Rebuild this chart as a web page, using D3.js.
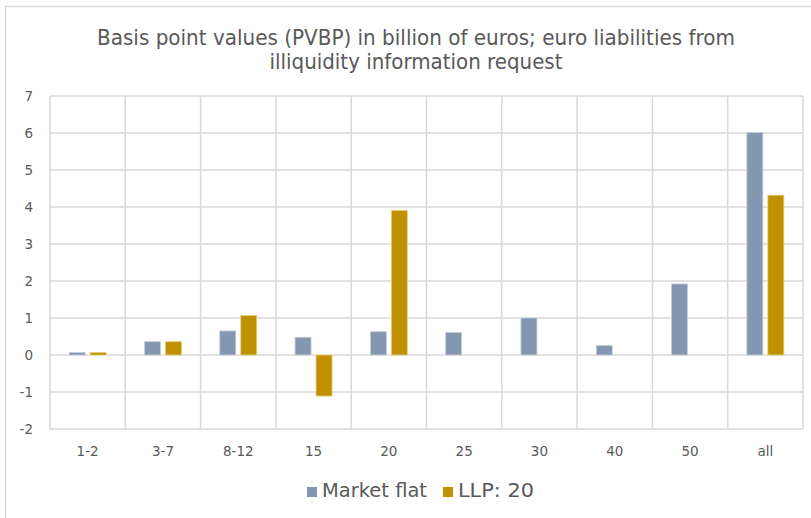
<!DOCTYPE html>
<html>
<head>
<meta charset="utf-8">
<script src="https://cdn.jsdelivr.net/npm/d3@7"></script>
<style>
  body { margin: 0; background: #fff; }
  text { font-family: "DejaVu Sans", Verdana, sans-serif; fill: #595959; }
</style>
</head>
<body>
<div class="chart"></div>
<script>
// data
var categories = ["1-2", "3-7", "8-12", "15", "20", "25", "30", "40", "50", "all"];
var seriesNames = ["Market flat", "LLP: 20"];
var marketFlat = [0.07, 0.36, 0.65, 0.48, 0.63, 0.61, 1.0, 0.26, 1.92, 6.01];
var llp20 = [0.07, 0.36, 1.07, -1.11, 3.91, null, null, null, null, 4.32];
var yTicks = [-2, -1, 0, 1, 2, 3, 4, 5, 6, 7];
var colors = ["#8497B0", "#BF9000"];
var strokes = ["#c5cfdc", "#e8d27a"];

var W = 811, H = 518;
var margin = { top: 96, right: 8, bottom: 89, left: 50 };
var width = 803 - margin.left;
var height = 429 - margin.top;

var svg = d3.select(".chart").append("svg")
    .attr("width", W)
    .attr("height", H);

// outer chart border
svg.append("rect")
    .attr("x", 5.5).attr("y", 6.5)
    .attr("width", W + 20).attr("height", H + 20)
    .attr("fill", "none")
    .attr("stroke", "#d9d9d9")
    .attr("stroke-width", 1.5);

// title
var title = svg.append("g").attr("class", "title");
title.append("text")
    .attr("x", 416).attr("y", 45)
    .attr("text-anchor", "middle")
    .attr("textLength", 638)
    .attr("lengthAdjust", "spacingAndGlyphs")
    .style("font-size", "21px")
    .text("Basis point values (PVBP) in billion of euros; euro liabilities from");
title.append("text")
    .attr("x", 416).attr("y", 69)
    .attr("text-anchor", "middle")
    .attr("textLength", 293)
    .attr("lengthAdjust", "spacingAndGlyphs")
    .style("font-size", "21px")
    .text("illiquidity information request");

var g = svg.append("g")
    .attr("transform", "translate(" + margin.left + "," + margin.top + ")");

var x = d3.scaleBand()
    .domain(categories)
    .range([0, width])
    .padding(0);

var xs = d3.scaleBand()
    .domain(seriesNames)
    .range([-18.5, 18.5])
    .paddingInner(0.238);

var y = d3.scaleLinear()
    .domain([-2, 7])
    .range([height, 0]);

// horizontal grid
g.append("g")
    .attr("class", "y-grid")
    .selectAll("line")
    .data(yTicks)
    .enter().append("line")
    .attr("x1", 0).attr("x2", width)
    .attr("y1", function (d) { return y(d); })
    .attr("y2", function (d) { return y(d); })
    .attr("stroke", "#d9d9d9")
    .attr("stroke-width", 1.5);

// vertical grid at category edges
var edges = categories.map(function (c) { return x(c); }).concat([width]);
g.append("g")
    .attr("class", "x-grid")
    .selectAll("line")
    .data(edges)
    .enter().append("line")
    .attr("x1", function (d) { return d; })
    .attr("x2", function (d) { return d; })
    .attr("y1", 0).attr("y2", height)
    .attr("stroke", "#d9d9d9")
    .attr("stroke-width", 1.5);

// y axis labels (plain hyphen minus, like the original)
var yAxisCall = d3.axisLeft(y)
    .tickValues(yTicks)
    .tickFormat(function (d) { return String(d); })
    .tickSize(0).tickPadding(17);
g.append("g")
    .attr("class", "y-axis")
    .call(yAxisCall)
    .call(function (s) { s.select(".domain").remove(); })
    .selectAll("text")
    .style("font-size", "13.5px")
    .attr("fill", "#595959");

// x axis labels
var xAxisCall = d3.axisBottom(x).tickSize(0).tickPadding(17);
g.append("g")
    .attr("class", "x-axis")
    .attr("transform", "translate(0," + height + ")")
    .call(xAxisCall)
    .call(function (s) { s.select(".domain").remove(); })
    .selectAll("text")
    .style("font-size", "13.5px")
    .attr("fill", "#595959");

// bars
var series = [marketFlat, llp20];
series.forEach(function (vals, si) {
    var rows = categories.map(function (c, i) { return { cat: c, v: vals[i] }; })
        .filter(function (d) { return d.v !== null; });
    g.append("g")
        .attr("class", "series-" + si)
        .selectAll("rect")
        .data(rows)
        .enter().append("rect")
        .attr("x", function (d) { return x(d.cat) + x.bandwidth() / 2 + xs(seriesNames[si]); })
        .attr("width", xs.bandwidth())
        .attr("y", function (d) { return y(Math.max(0, d.v)); })
        .attr("height", function (d) { return Math.abs(y(d.v) - y(0)); })
        .attr("fill", colors[si])
        .attr("stroke", strokes[si])
        .attr("stroke-width", 0.8);
});

// legend
var legendX = [307, 443];
var legendW = [105, 76];
var legend = svg.append("g").attr("class", "legend");
seriesNames.forEach(function (name, i) {
    legend.append("rect")
        .attr("x", legendX[i]).attr("y", 487)
        .attr("width", 10).attr("height", 10)
        .attr("fill", colors[i]);
    legend.append("text")
        .attr("x", legendX[i] + 15).attr("y", 497)
        .attr("textLength", legendW[i])
        .attr("lengthAdjust", "spacingAndGlyphs")
        .style("font-size", "19px")
        .text(name);
});
</script>
</body>
</html>
